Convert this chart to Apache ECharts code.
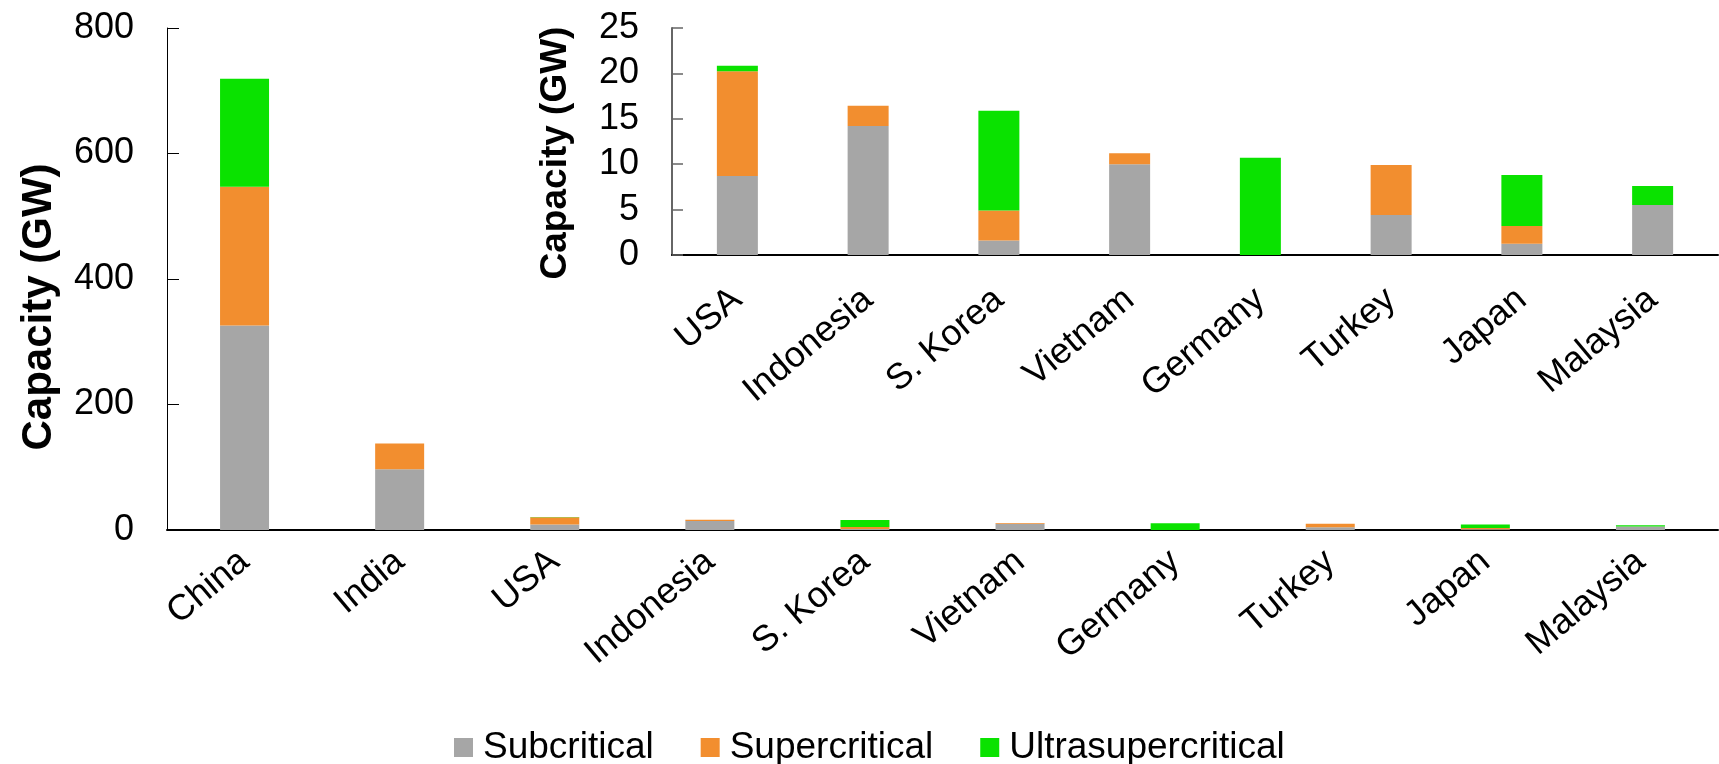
<!DOCTYPE html>
<html>
<head>
<meta charset="utf-8">
<script src="https://cdn.jsdelivr.net/npm/echarts@6/dist/echarts.min.js"></script>
<style>
  html, body { margin: 0; padding: 0; background: #fff; }
  #chart { width: 1719px; height: 764px; }
</style>
</head>
<body>
<div id="chart"></div>
<script>
// Coal plant capacity by steam technology, top ten countries
const countries = ['China', 'India', 'USA', 'Indonesia', 'S. Korea', 'Vietnam', 'Germany', 'Turkey', 'Japan', 'Malaysia'];
const subcritical      = [326, 97, 8.7, 14.2, 1.6, 10.0, 0, 4.4, 1.25, 5.5];
const supercritical    = [221, 41, 11.55, 2.25, 3.3, 1.2, 0, 5.5, 1.95, 0];
const ultrasupercritical = [172, 0, 0.6, 0, 11.0, 0, 10.7, 0, 5.6, 2.1];

// Inset repeats the smaller countries (everything after India)
const insetCountries = countries.slice(2);
const insetSub = subcritical.slice(2);
const insetSuper = supercritical.slice(2);
const insetUltra = ultrasupercritical.slice(2);

const mainTicks = { min: 0, max: 800, interval: 200 };
const insetTicks = { min: 0, max: 25, interval: 5 };

const seriesNames = ['Subcritical', 'Supercritical', 'Ultrasupercritical'];
const colors = ['#A6A6A6', '#F28E2F', '#0AE200'];

const FONT = '"Liberation Sans", Arial, sans-serif';

const chart = echarts.init(document.getElementById('chart'), null, { renderer: 'canvas' });

function barSeries(name, data, idx, stack, color, width) {
  return {
    name: name,
    type: 'bar',
    stack: stack,
    xAxisIndex: idx,
    yAxisIndex: idx,
    data: data,
    barWidth: width,
    itemStyle: { color: color },
    emphasis: { disabled: true }
  };
}

const option = {
  backgroundColor: '#fff',
  animation: false,
  textStyle: { fontFamily: FONT },
  color: colors,
  legend: {
    data: seriesNames,
    left: 449,
    top: 724,
    itemWidth: 19,
    itemHeight: 19,
    itemGap: 47,
    icon: 'rect',
    textStyle: { fontSize: 37, color: '#000', fontFamily: FONT, padding: [0, 0, 0, 5] }
  },
  grid: [
    { left: 167, top: 28, width: 1551, height: 502 },
    { left: 672, top: 28, width: 1046, height: 227 }
  ],
  xAxis: [
    {
      type: 'category', gridIndex: 0, data: countries,
      axisLine: { lineStyle: { color: '#000', width: 2 } },
      axisTick: { show: false },
      axisLabel: { interval: 0, rotate: 40, margin: 27, fontSize: 36, color: '#000', fontFamily: FONT }
    },
    {
      type: 'category', gridIndex: 1, data: insetCountries,
      axisLine: { lineStyle: { color: '#000', width: 2 } },
      axisTick: { show: false },
      axisLabel: { interval: 0, rotate: 40, margin: 40, fontSize: 36, color: '#000', fontFamily: FONT }
    }
  ],
  yAxis: [
    {
      type: 'value', gridIndex: 0,
      min: mainTicks.min, max: mainTicks.max, interval: mainTicks.interval,
      axisLine: { show: true, lineStyle: { color: '#000', width: 1 } },
      axisTick: { show: true, inside: true, length: 12, lineStyle: { color: '#000', width: 1 } },
      splitLine: { show: false },
      axisLabel: { margin: 33, fontSize: 36, color: '#000', fontFamily: FONT }
    },
    {
      type: 'value', gridIndex: 1,
      min: insetTicks.min, max: insetTicks.max, interval: insetTicks.interval,
      axisLine: { show: true, lineStyle: { color: '#666', width: 2 } },
      axisTick: { show: true, inside: true, length: 11, lineStyle: { color: '#666', width: 1.5 } },
      splitLine: { show: false },
      axisLabel: { margin: 33, fontSize: 36, color: '#000', fontFamily: FONT }
    }
  ],
  graphic: [
    {
      type: 'text', x: 39, y: 307, rotation: Math.PI / 2,
      style: {
        text: 'Capacity (GW)', font: 'bold 42px ' + FONT, fill: '#000',
        textAlign: 'center', textVerticalAlign: 'middle'
      }
    },
    {
      type: 'text', x: 556, y: 153, rotation: Math.PI / 2,
      style: {
        text: 'Capacity (GW)', font: 'bold 37px ' + FONT, fill: '#000',
        textAlign: 'center', textVerticalAlign: 'middle'
      }
    }
  ],
  series: [
    barSeries(seriesNames[0], subcritical, 0, 'main', colors[0], 49),
    barSeries(seriesNames[1], supercritical, 0, 'main', colors[1], 49),
    barSeries(seriesNames[2], ultrasupercritical, 0, 'main', colors[2], 49),
    barSeries(seriesNames[0], insetSub, 1, 'inset', colors[0], 41),
    barSeries(seriesNames[1], insetSuper, 1, 'inset', colors[1], 41),
    barSeries(seriesNames[2], insetUltra, 1, 'inset', colors[2], 41)
  ]
};

chart.setOption(option);
</script>
</body>
</html>
